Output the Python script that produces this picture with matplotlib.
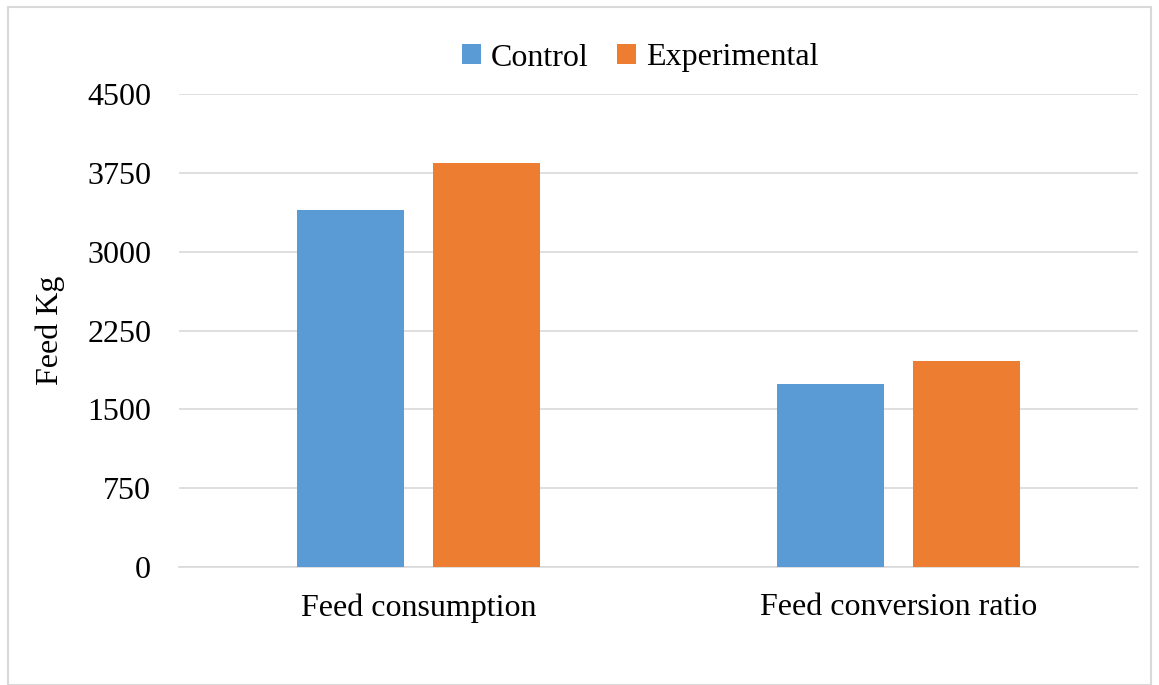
import matplotlib.pyplot as plt
import numpy as np
from matplotlib.patches import Rectangle

categories = ['Feed consumption', 'Feed conversion ratio']
control = [3400, 1742]
experimental = [3840, 1958]
yticks = [0, 750, 1500, 2250, 3000, 3750, 4500]

plt.rcParams['font.family'] = ['Liberation Serif', 'DejaVu Serif']

fig = plt.figure(figsize=(11.59, 6.85), dpi=100)
ax = fig.add_axes([179/1159, 1-567/685, (1138-179)/1159, (567-94)/685])

x = np.arange(len(categories))
w = 0.223
gap = 0.06
ax.bar(x - (w+gap)/2, control, w, color='#5b9bd5', label='Control', zorder=3)
ax.bar(x + (w+gap)/2, experimental, w, color='#ed7d31', label='Experimental', zorder=3)

ax.set_xlim(-0.5, 1.5)
ax.set_ylim(0, 4500)
ax.set_yticks(yticks)
ax.set_xticks(x)
ax.set_xticklabels(categories)
ax.tick_params(axis='both', length=0, labelsize=23)
ax.tick_params(axis='y', pad=20)
ax.tick_params(axis='x', pad=19)
ax.yaxis.grid(True, color='#d9d9d9', lw=1.2, zorder=0)
for s in ['top', 'right', 'left']:
    ax.spines[s].set_visible(False)
ax.spines['bottom'].set_color('#d9d9d9')
ax.spines['bottom'].set_linewidth(1.2)
ax.set_ylabel('Feed Kg', fontsize=23, labelpad=16)

fig.legend(loc='center', bbox_to_anchor=(640/1159, 1-58/685), ncol=2, frameon=False,
           fontsize=23, handlelength=0.6, handleheight=0.6, handletextpad=0.3,
           columnspacing=0.9)

# outer frame
fig.patches.append(Rectangle((8/1159, 0), (1151-8)/1159, 1-7/685, transform=fig.transFigure,
                             fill=False, edgecolor='#d9d9d9', lw=1.5))

fig.savefig('out.png', dpi=100)
